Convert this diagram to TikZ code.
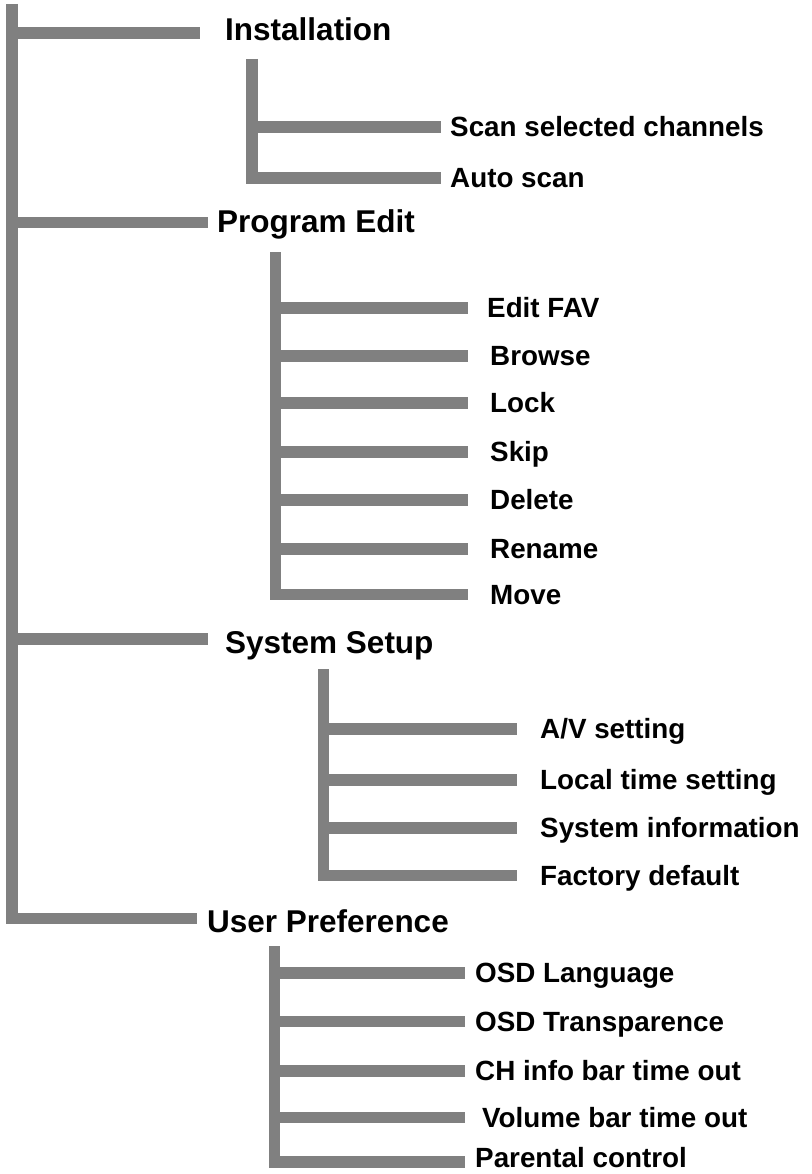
\documentclass[tikz,border=0pt]{standalone}
\usepackage{fontspec}
\setmainfont{Liberation Sans}
\definecolor{barcol}{HTML}{808080}
\begin{document}
\begin{tikzpicture}[x=1pt,y=-1pt,
  bar/.style={draw=barcol,line width=11.5pt},
  head/.style={anchor=base west,inner sep=0pt,font=\fontsize{31.5}{31.5}\selectfont\bfseries},
  item/.style={anchor=base west,inner sep=0pt,font=\fontsize{27.8}{27.8}\selectfont\bfseries}]
\useasboundingbox (0,0) rectangle (811,1174);
% main trunk
\coordinate (mtop) at (12,4);
\coordinate (mbot) at (12,924.25);
\draw[bar] (mtop) -- (mbot);
% headers
\coordinate (h1) at (12,33);    \coordinate (h1e) at (200,33);
\coordinate (h2) at (12,222.5); \coordinate (h2e) at (208,222.5);
\coordinate (h3) at (12,639);   \coordinate (h3e) at (208,639);
\coordinate (h4) at (12,918.5); \coordinate (h4e) at (197,918.5);
\draw[bar] (h1) -- (h1e);
\draw[bar] (h2) -- (h2e);
\draw[bar] (h3) -- (h3e);
\draw[bar] (h4) -- (h4e);
\node[head] (inst) at (225,41) {Installation};
\node[head] (pe) at (217,233) {Program Edit};
\node[head] (ss) at (225,653) {System Setup};
\node[head] (up) at (207,932) {User Preference};
% Installation
\coordinate (it) at (252,59); \coordinate (ib) at (252,183.75);
\draw[bar] (it) -- (ib);
\foreach \n/\y/\t in {i1/127/Scan selected channels, i2/178/Auto scan}{
  \coordinate (\n s) at (252,\y); \coordinate (\n e) at (441,\y);
  \draw[bar] (\n s) -- (\n e);
  \node[item] (\n) at (450,\y+9.7) {\t};
}
% Program Edit
\coordinate (pt) at (275.5,252); \coordinate (pb) at (275.5,600.25);
\draw[bar] (pt) -- (pb);
\foreach \n/\y/\x/\t in {p1/308/487/Edit FAV, p2/356/490/Browse, p3/403/490/Lock, p4/452/490/Skip, p5/500/490/Delete, p6/549/490/Rename, p7/594.5/490/Move}{
  \coordinate (\n s) at (275.5,\y); \coordinate (\n e) at (468,\y);
  \draw[bar] (\n s) -- (\n e);
  \node[item] (\n) at (\x,\y+9.7) {\t};
}
% System Setup
\coordinate (st) at (323.5,669); \coordinate (sb) at (323.5,881.25);
\draw[bar] (st) -- (sb);
\coordinate (s1s) at (323.5,729); \coordinate (s1e) at (517,729);
\draw[bar] (s1s) -- (s1e);
\node[item] (s1) at (540,738.7) {A/V setting};
\foreach \n/\y/\t in {s2/780/Local time setting, s3/828/System information, s4/875.5/Factory default}{
  \coordinate (\n s) at (323.5,\y); \coordinate (\n e) at (517,\y);
  \draw[bar] (\n s) -- (\n e);
  \node[item] (\n) at (540,\y+9.7) {\t};
}
% User Preference
\coordinate (ut) at (274.5,946); \coordinate (ub) at (274.5,1167.75);
\draw[bar] (ut) -- (ub);
\foreach \n/\y/\x/\t in {u1/973/475/OSD Language, u2/1021.5/475/OSD Transparence, u3/1071/475/CH info bar time out, u4/1117.5/482/Volume bar time out}{
  \coordinate (\n s) at (274.5,\y); \coordinate (\n e) at (465,\y);
  \draw[bar] (\n s) -- (\n e);
  \node[item] (\n) at (\x,\y+9.7) {\t};
}
\coordinate (u5s) at (274.5,1162); \coordinate (u5e) at (465,1162);
\draw[bar] (u5s) -- (u5e);
\node[item] (u5) at (475,1167) {Parental control};
\end{tikzpicture}
\end{document}
